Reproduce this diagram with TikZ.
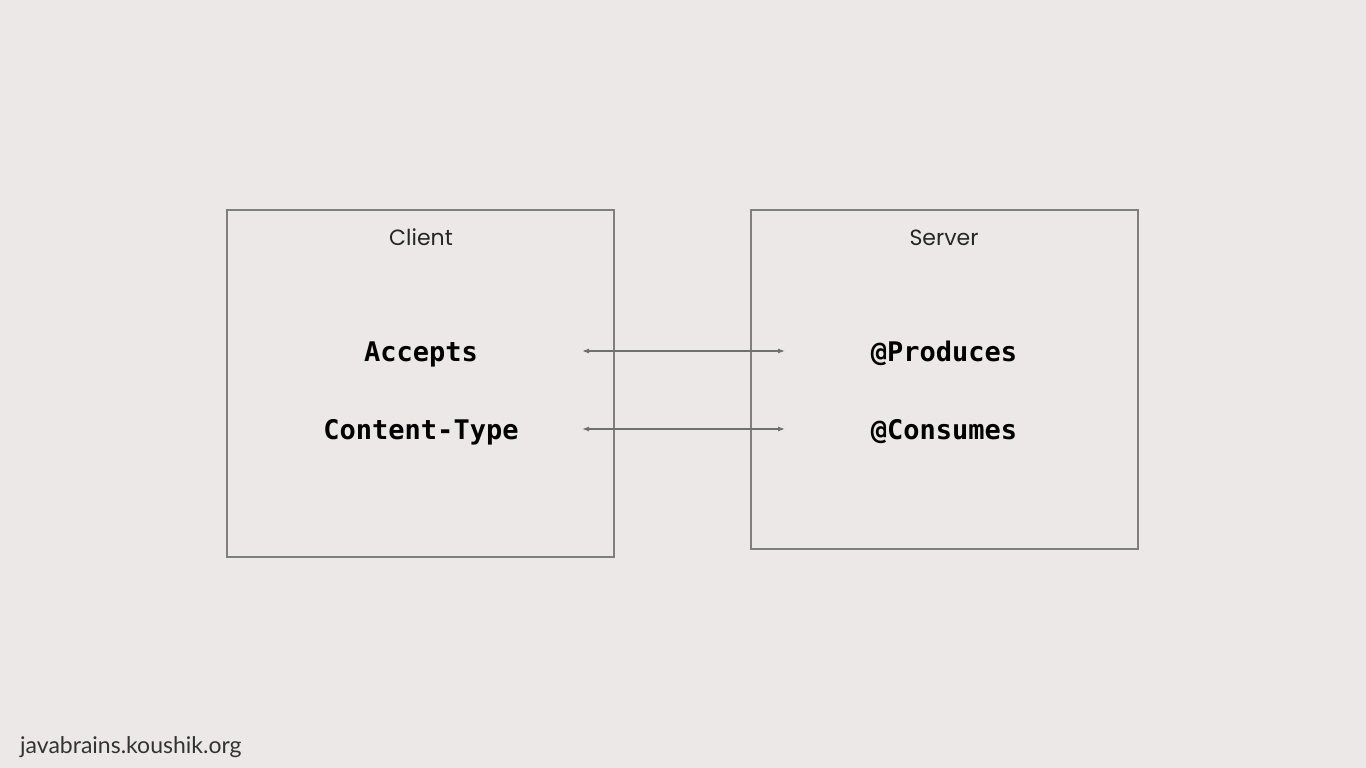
\documentclass[tikz,border=0pt]{standalone}
\usepackage{fontspec}
\setmainfont{Lato}
\setmonofont{DejaVu Sans Mono}
\newfontfamily\titlefont{Poppins}
\usetikzlibrary{arrows.meta}
\definecolor{bg}{HTML}{ECE8E8}
\definecolor{edge}{HTML}{7F7F7F}
\definecolor{arr}{HTML}{707070}
\begin{document}
\begin{tikzpicture}[x=1pt,y=-1pt,
  panel/.style={draw=edge,line width=1.1pt},
  ttl/.style={font=\titlefont\fontsize{22}{24}\selectfont,text=black!85,inner sep=0,anchor=base},
  code/.style={font=\ttfamily\bfseries\fontsize{27}{29}\selectfont,inner sep=0,anchor=base},
  link/.style={draw=arr,line width=1.1pt,{Latex[length=7pt,width=5pt]}-{Latex[length=7pt,width=5pt]}}]
\fill[bg] (0,0) rectangle (1366,768);
\useasboundingbox (0,0) rectangle (1366,768);
\draw[panel] (227,210) rectangle (614,557);
\draw[panel] (751,210) rectangle (1138,549);
\node[ttl] (ct) at (421,245) {Client};
\node[ttl] (st) at (944,245) {Server};
\node[code] (acc) at (421,361) {Accepts};
\node[code] (cty) at (421,439) {Content-Type};
\node[code] (pro) at (944,361) {@Produces};
\node[code] (con) at (944,439) {@Consumes};
\coordinate (a1) at (582,351);
\coordinate (b1) at (785,351);
\coordinate (a2) at (582,429);
\coordinate (b2) at (785,429);
\draw[link] (a1) -- (b1);
\draw[link] (a2) -- (b2);
\node[font=\fontsize{23}{26}\selectfont,text=black!80,anchor=west,inner sep=0] (ft) at (20,747) {javabrains.koushik.org};
\end{tikzpicture}
\end{document}
